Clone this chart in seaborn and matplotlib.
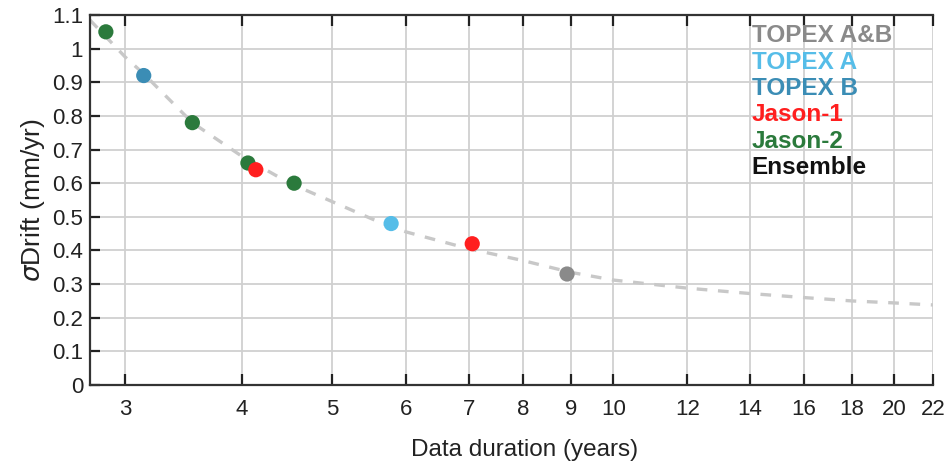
import matplotlib
matplotlib.use("Agg")
import matplotlib.pyplot as plt
from matplotlib.lines import Line2D
import seaborn as sns
import pandas as pd

# ---- data ----
point_years = [2.86, 3.14, 3.54, 4.06, 4.14, 4.55, 5.78, 7.06, 8.92]
point_sigma = [1.05, 0.92, 0.78, 0.66, 0.64, 0.60, 0.48, 0.42, 0.33]
point_mission = ["Jason-2", "TOPEX B", "Jason-2", "Jason-2", "Jason-1",
                 "Jason-2", "TOPEX A", "Jason-1", "TOPEX A&B"]

curve_years = [2.75, 3.0, 3.14, 3.54, 4.0, 4.5, 5.0, 5.5, 5.78, 6.0, 7.0,
               8.0, 9.0, 10.0, 12.0, 14.0, 16.0, 18.0, 20.0, 22.0]
curve_sigma = [1.085, 0.975, 0.925, 0.78, 0.68, 0.60, 0.545, 0.495, 0.47,
               0.455, 0.405, 0.37, 0.335, 0.312, 0.288, 0.272, 0.26, 0.25,
               0.244, 0.238]

legend_labels = ["TOPEX A&B", "TOPEX A", "TOPEX B", "Jason-1", "Jason-2", "Ensemble"]
legend_colors = ["#8a8a8a", "#56bde8", "#3b8db5", "#ff1f1f", "#2b7a3c", "#111111"]

x_ticks = [3, 4, 5, 6, 7, 8, 9, 10, 12, 14, 16, 18, 20, 22]
y_ticks = [0, 0.1, 0.2, 0.3, 0.4, 0.5, 0.6, 0.7, 0.8, 0.9, 1, 1.1]
y_tick_labels = ["0", "0.1", "0.2", "0.3", "0.4", "0.5", "0.6", "0.7", "0.8",
                 "0.9", "1", "1.1"]

# ---- style ----
sns.set_style("white")
plt.rcParams["font.family"] = ["Liberation Sans", "DejaVu Sans"]
plt.rcParams["mathtext.fontset"] = "dejavusans"

palette = dict(zip(legend_labels, legend_colors))

pts = pd.DataFrame({"years": point_years, "sigma": point_sigma,
                    "mission": point_mission})
crv = pd.DataFrame({"years": curve_years, "sigma": curve_sigma})

fig = plt.figure(figsize=(9.46, 4.66), dpi=100)
ax = fig.add_axes([0.0951, 0.1738, 0.8912, 0.794])

sns.lineplot(data=crv, x="years", y="sigma", ax=ax, color="#c8c8c8",
             linewidth=2.4, zorder=2)
ax.lines[-1].set_dashes([3.2, 3.2])
sns.scatterplot(data=pts, x="years", y="sigma", hue="mission",
                palette=palette, s=120, edgecolor="none", ax=ax,
                legend=False, zorder=3)

ax.set_xscale("log")
ax.set_xlim(2.75, 22)
ax.set_ylim(0, 1.1)
ax.set_xticks(x_ticks)
ax.set_xticklabels([str(t) for t in x_ticks], fontsize=16)
ax.xaxis.set_minor_locator(matplotlib.ticker.NullLocator())
ax.set_yticks(y_ticks)
ax.set_yticklabels(y_tick_labels, fontsize=16)

ax.grid(True, color="#d0d0d0", linewidth=1.3)
ax.set_axisbelow(True)
ax.tick_params(axis="x", direction="in", length=8, width=1.6, top=True,
               bottom=True, pad=10, colors="#222222")
ax.tick_params(axis="y", direction="in", length=7, width=1.6, left=True,
               right=False, pad=5, colors="#222222")
for side in ["left", "bottom", "top"]:
    ax.spines[side].set_color("#333333")
    ax.spines[side].set_linewidth(1.6)
ax.spines["right"].set_visible(False)

ax.set_xlabel("Data duration (years)", fontsize=17.5, color="#222222",
              va="center")
ax.xaxis.set_label_coords(0.516, -0.176)
ax.set_ylabel(r"$\sigma$Drift (mm/yr)", fontsize=19, color="#222222",
              va="center")
ax.yaxis.set_label_coords(-0.0676, 0.5)

handles = [Line2D([], [], linestyle="none", color=c) for c in legend_colors]
leg = ax.legend(handles, legend_labels, loc="upper left",
                bbox_to_anchor=(0.785, 0.975), frameon=False,
                handlelength=0, handletextpad=0, labelspacing=0.14,
                prop={"weight": "bold", "size": 17.5}, labelcolor=legend_colors,
                borderaxespad=0, borderpad=0)

fig.savefig("out.png", dpi=100)
